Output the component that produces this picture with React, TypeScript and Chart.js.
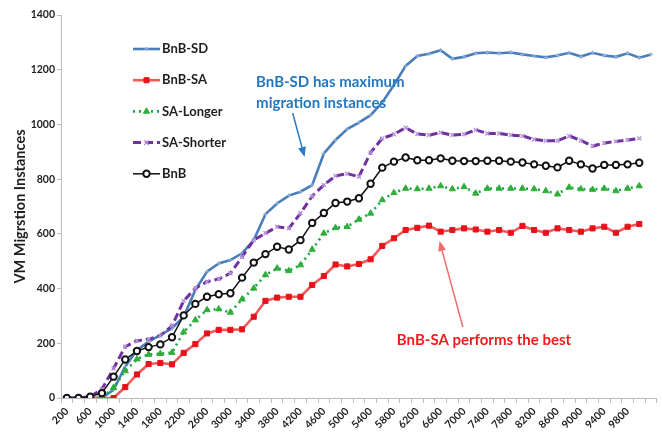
import React, { useEffect, useRef } from 'react';
import { Chart, registerables } from 'chart.js';

Chart.register(...registerables);

// ---------- DATA ----------
const categories = [
  '200', '400', '600', '800', '1000', '1200', '1400', '1600', '1800', '2000',
  '2200', '2400', '2600', '2800', '3000', '3200', '3400', '3600', '3800', '4000',
  '4200', '4400', '4600', '4800', '5000', '5200', '5400', '5600', '5800', '6000',
  '6200', '6400', '6600', '6800', '7000', '7200', '7400', '7600', '7800', '8000',
  '8200', '8400', '8600', '8800', '9000', '9200', '9400', '9600', '9800', '10000',
  '10200',
];

const shownTickLabels = [
  '200', '600', '1000', '1400', '1800', '2200', '2600', '3000', '3400', '3800',
  '4200', '4600', '5000', '5400', '5800', '6200', '6600', '7000', '7400', '7800',
  '8200', '8600', '9000', '9400', '9800',
];

const bnbSD = [
  0, 0, 0, 0, 30, 115, 175, 206, 230, 255,
  297, 395, 462, 492, 504, 529, 577, 672, 711, 740,
  754, 778, 894, 943, 983, 1007, 1034, 1080, 1144, 1214,
  1250, 1258, 1271, 1240, 1247, 1260, 1263, 1260, 1263, 1256,
  1250, 1245, 1252, 1262, 1248, 1262, 1252, 1247, 1260, 1244,
  1256,
];

const bnbSA = [
  0, 0, 0, 0, 0, 40, 86, 124, 128, 123,
  165, 197, 236, 249, 249, 251, 297, 355, 367, 370,
  370, 413, 446, 488, 481, 490, 507, 556, 584, 614,
  622, 630, 608, 614, 620, 616, 608, 614, 604, 629,
  614, 604, 620, 614, 608, 620, 626, 604, 626, 636,
  null,
];

const saLonger = [
  0, 0, 0, 0, 38, 99, 142, 159, 162, 166,
  241, 285, 322, 325, 313, 361, 401, 450, 474, 465,
  486, 543, 602, 622, 626, 653, 675, 724, 750, 766,
  764, 766, 775, 764, 772, 748, 766, 766, 766, 766,
  764, 757, 745, 770, 764, 762, 766, 757, 766, 775,
  null,
];

const saShorter = [
  0, 0, 5, 32, 108, 188, 209, 215, 228, 264,
  355, 401, 425, 435, 456, 516, 577, 602, 626, 620,
  675, 738, 779, 812, 820, 809, 897, 949, 964, 988,
  965, 961, 970, 961, 964, 980, 967, 967, 961, 958,
  945, 940, 940, 958, 941, 921, 932, 938, 943, 949,
  null,
];

const bnb = [
  0, 0, 5, 18, 78, 141, 172, 186, 196, 222,
  302, 344, 370, 379, 383, 440, 495, 526, 553, 543,
  577, 640, 676, 713, 718, 730, 783, 842, 864, 879,
  869, 869, 876, 867, 866, 866, 867, 867, 864, 861,
  854, 849, 843, 867, 854, 839, 852, 852, 854, 860,
  null,
];

const seriesNames = ['BnB-SD', 'BnB-SA', 'SA-Longer', 'SA-Shorter', 'BnB'];

// ---------- STYLES ----------
const FONT = 'Lato, "Open Sans", sans-serif';
const TEXT_COLOR = '#1e1e1e';
const AXIS_COLOR = '#bdbdbd';
const BLUE_NOTE = '#2477c0';
const RED_NOTE = '#f01c1c';

const styles = [
  { line: '#4a7ebb', width: 2.6, dash: [], point: 'cross', radius: 2.2, fill: '#8fb0dc', stroke: '#8fb0dc', pw: 1 },
  { line: '#f05a5a', width: 2.6, dash: [], point: 'rect', radius: 3.6, fill: '#e8121a', stroke: '#e8121a', pw: 1 },
  { line: '#19a84a', width: 2.6, dash: [2, 4], point: 'triangle', radius: 3.6, fill: '#2fae3a', stroke: '#2fae3a', pw: 1 },
  { line: '#7030a0', width: 3, dash: [8, 4], point: 'crossRot', radius: 2.8, fill: '#b795d8', stroke: '#b795d8', pw: 1.4 },
  { line: '#111111', width: 1.5, dash: [], point: 'circle', radius: 3.2, fill: '#ffffff', stroke: '#111111', pw: 2 },
];

const noteTexts = [
  { text: 'BnB-SD has maximum', cat: 16.2, val: 1155, color: BLUE_NOTE },
  { text: 'migration instances', cat: 16.2, val: 1078, color: BLUE_NOTE },
  { text: 'BnB-SA performs the best', cat: 28.25, val: 212, color: RED_NOTE },
];

const noteArrows = [
  { from: [19.33, 1042], to: [20.35, 881], color: '#2a7ac0' },
  { from: [33.9, 259], to: [31.9, 574], color: '#f06a6a' },
];

function drawMarker(ctx: CanvasRenderingContext2D, s: any, x: number, y: number) {
  const r = s.radius;
  ctx.save();
  ctx.setLineDash([]);
  ctx.lineWidth = s.pw;
  ctx.strokeStyle = s.stroke;
  ctx.fillStyle = s.fill;
  ctx.beginPath();
  if (s.point === 'rect') {
    const h = r * Math.SQRT1_2;
    ctx.rect(x - h, y - h, 2 * h, 2 * h);
    ctx.fill();
    ctx.stroke();
  } else if (s.point === 'triangle') {
    ctx.moveTo(x, y - r);
    ctx.lineTo(x + r * 0.866, y + r * 0.5);
    ctx.lineTo(x - r * 0.866, y + r * 0.5);
    ctx.closePath();
    ctx.fill();
    ctx.stroke();
  } else if (s.point === 'circle') {
    ctx.arc(x, y, r, 0, Math.PI * 2);
    ctx.fill();
    ctx.stroke();
  } else if (s.point === 'cross') {
    ctx.moveTo(x, y - r);
    ctx.lineTo(x, y + r);
    ctx.moveTo(x - r, y);
    ctx.lineTo(x + r, y);
    ctx.stroke();
  } else {
    const d = r * Math.SQRT1_2 * 1.2;
    ctx.moveTo(x - d, y - d);
    ctx.lineTo(x + d, y + d);
    ctx.moveTo(x + d, y - d);
    ctx.lineTo(x - d, y + d);
    ctx.stroke();
  }
  ctx.restore();
}

const insideLegend = {
  id: 'insideLegend',
  afterDraw(chart: any) {
    const { ctx, chartArea } = chart;
    const x0 = chartArea.left + 72;
    const y0 = chartArea.top + 34;
    seriesNames.forEach((name, i) => {
      const s = styles[i];
      const y = y0 + i * 31.2;
      ctx.save();
      ctx.strokeStyle = s.line;
      ctx.lineWidth = s.width;
      ctx.setLineDash(s.dash);
      ctx.beginPath();
      ctx.moveTo(x0, y);
      ctx.lineTo(x0 + 27, y);
      ctx.stroke();
      ctx.restore();
      drawMarker(ctx, s, x0 + 13.5, y);
      ctx.save();
      ctx.fillStyle = TEXT_COLOR;
      ctx.font = `bold 13px ${FONT}`;
      ctx.textBaseline = 'middle';
      ctx.textAlign = 'left';
      ctx.fillText(name, x0 + 29, y);
      ctx.restore();
    });
  },
};

const notesPlugin = {
  id: 'notes',
  afterDraw(chart: any) {
    const { ctx } = chart;
    const xs = chart.scales.x;
    const ys = chart.scales.y;
    noteArrows.forEach((a) => {
      const x1 = xs.getPixelForValue(a.from[0]);
      const y1 = ys.getPixelForValue(a.from[1]);
      const x2 = xs.getPixelForValue(a.to[0]);
      const y2 = ys.getPixelForValue(a.to[1]);
      const ang = Math.atan2(y2 - y1, x2 - x1);
      ctx.save();
      ctx.strokeStyle = a.color;
      ctx.fillStyle = a.color;
      ctx.lineWidth = 1.5;
      ctx.beginPath();
      ctx.moveTo(x1, y1);
      ctx.lineTo(x2 - Math.cos(ang) * 4, y2 - Math.sin(ang) * 4);
      ctx.stroke();
      const hl = 10;
      const hw = 4;
      ctx.beginPath();
      ctx.moveTo(x2, y2);
      ctx.lineTo(x2 - hl * Math.cos(ang) + hw * Math.sin(ang), y2 - hl * Math.sin(ang) - hw * Math.cos(ang));
      ctx.lineTo(x2 - hl * Math.cos(ang) - hw * Math.sin(ang), y2 - hl * Math.sin(ang) + hw * Math.cos(ang));
      ctx.closePath();
      ctx.fill();
      ctx.restore();
    });
    noteTexts.forEach((t) => {
      ctx.save();
      ctx.fillStyle = t.color;
      ctx.font = `bold 15px ${FONT}`;
      ctx.textBaseline = 'middle';
      ctx.textAlign = 'left';
      ctx.fillText(t.text, xs.getPixelForValue(t.cat), ys.getPixelForValue(t.val));
      ctx.restore();
    });
  },
};

export default function App() {
  const canvasRef = useRef<HTMLCanvasElement | null>(null);

  useEffect(() => {
    const canvas = canvasRef.current;
    if (!canvas) return;
    const allSeries = [bnbSD, bnbSA, saLonger, saShorter, bnb];
    const chart = new Chart(canvas, {
      type: 'line',
      data: {
        labels: categories,
        datasets: allSeries.map((d, i) => {
          const s = styles[i];
          return {
            label: seriesNames[i],
            data: d,
            borderColor: s.line,
            borderWidth: s.width,
            borderDash: s.dash,
            tension: 0,
            fill: false,
            pointStyle: s.point as any,
            pointRadius: s.radius,
            pointBackgroundColor: s.fill,
            pointBorderColor: s.stroke,
            pointBorderWidth: s.pw,
            pointHoverRadius: s.radius,
            order: i === 4 ? 0 : 5 - i,
          };
        }),
      },
      options: {
        responsive: false,
        animation: false,
        devicePixelRatio: 1,
        layout: { padding: { top: 15, right: 0, bottom: 0, left: 0 } },
        plugins: {
          legend: { display: false },
          tooltip: { enabled: false },
        },
        scales: {
          x: {
            type: 'category',
            offset: true,
            grid: {
              offset: true,
              drawOnChartArea: false,
              drawTicks: true,
              tickLength: 5,
              color: AXIS_COLOR,
            },
            border: { color: AXIS_COLOR, width: 1 },
            ticks: {
              autoSkip: false,
              maxRotation: 45,
              minRotation: 45,
              padding: 2,
              color: TEXT_COLOR,
              font: { family: FONT, size: 10.5, weight: 'bold' },
              callback: (_v: any, i: number) =>
                shownTickLabels.includes(categories[i]) ? categories[i] : '',
            },
            afterFit: (s: any) => {
              s.height = 34;
              s.paddingLeft = 0;
              s.paddingRight = 0;
            },
          },
          y: {
            min: 0,
            max: 1400,
            grid: {
              drawOnChartArea: false,
              drawTicks: true,
              tickLength: 4,
              color: AXIS_COLOR,
            },
            border: { color: AXIS_COLOR, width: 1 },
            ticks: {
              stepSize: 200,
              padding: 2,
              color: TEXT_COLOR,
              font: { family: FONT, size: 10.5, weight: 'bold' },
              callback: (v: any) => String(v),
            },
            title: {
              display: true,
              text: 'VM Migrstion Instances',
              color: TEXT_COLOR,
              font: { family: FONT, size: 14.5, weight: 'bold' },
              padding: { top: 12, bottom: 0 },
            },
            afterFit: (s: any) => {
              s.width = 61;
              s.paddingTop = 0;
              s.paddingBottom = 0;
            },
          },
        },
      },
      plugins: [insideLegend, notesPlugin],
    } as any);
    return () => chart.destroy();
  }, []);

  return (
    <div style={{ position: 'absolute', left: 0, top: 0, width: 662, height: 432, background: '#fff' }}>
      <canvas ref={canvasRef} width={662} height={432} />
    </div>
  );
}
